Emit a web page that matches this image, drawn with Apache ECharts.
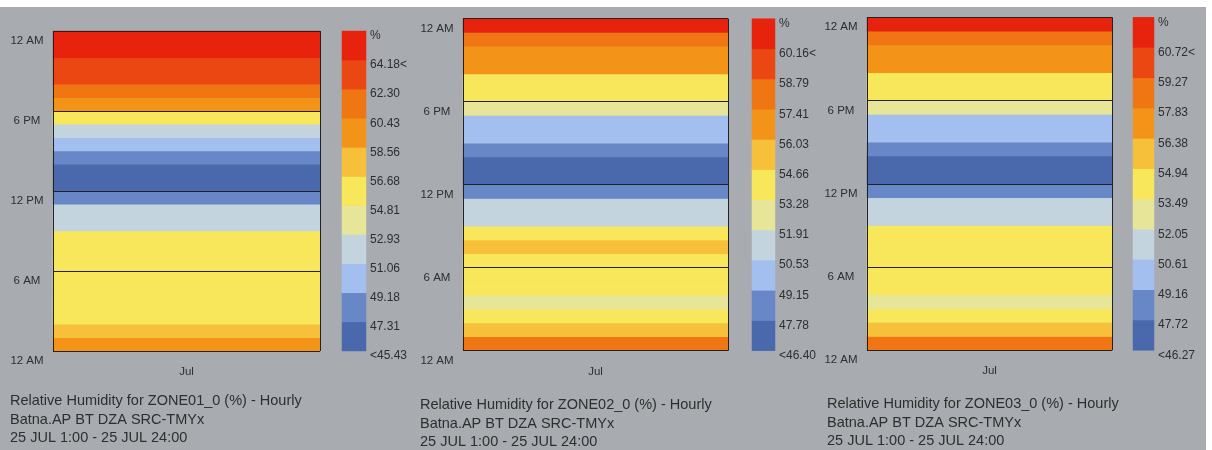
<!DOCTYPE html>
<html>
<head>
<meta charset="utf-8">
<script src="https://cdn.jsdelivr.net/npm/echarts@6/dist/echarts.min.js"></script>
<style>
  html, body { margin: 0; padding: 0; background: #ffffff; }
  #chart { position: absolute; left: 0; top: 7px; width: 1206px; height: 443px; }
</style>
</head>
<body>
<div id="chart"></div>
<script>
// Hourly relative humidity (%) for 25 July, hours 1:00 .. 24:00 (bottom to top)
const months = ['Jul'];
const hours = ['1:00', '2:00', '3:00', '4:00', '5:00', '6:00', '7:00', '8:00', '9:00', '10:00', '11:00', '12:00',
  '13:00', '14:00', '15:00', '16:00', '17:00', '18:00', '19:00', '20:00', '21:00', '22:00', '23:00', '24:00'];
const timeTicks = ['12 AM', '6 AM', '12 PM', '6 PM', '12 AM'];

const zone1 = [59.6, 57.2, 55.9, 55.4, 55.6, 55.8, 55.5, 55.3, 55.1, 52.6, 51.9, 48.0,
  45.43, 46.2, 48.6, 50.2, 52.3, 55.2, 59.3, 61.2, 62.9, 63.8, 65.2, 66.05];
const zone2 = [58.2, 55.2, 54.0, 52.8, 53.9, 54.2, 54.0, 55.0, 54.1, 51.2, 50.9, 48.3,
  46.40, 47.0, 48.5, 49.6, 50.2, 52.4, 53.8, 54.3, 56.5, 56.9, 58.0, 61.5];
const zone3 = [58.4, 55.6, 54.3, 53.0, 54.2, 54.5, 54.3, 54.0, 54.2, 51.4, 51.0, 48.5,
  46.27, 47.0, 48.4, 49.9, 50.3, 52.8, 54.0, 54.6, 56.9, 57.4, 58.6, 62.1];

// Colour-key class edges (lowest to highest) and their printed labels
const zone1Bounds = [45.43, 47.31, 49.18, 51.06, 52.93, 54.81, 56.68, 58.56, 60.43, 62.30, 64.18, 66.05];
const zone2Bounds = [46.40, 47.78, 49.15, 50.53, 51.91, 53.28, 54.66, 56.03, 57.41, 58.79, 60.16, 61.54];
const zone3Bounds = [46.27, 47.72, 49.16, 50.61, 52.05, 53.49, 54.94, 56.38, 57.83, 59.27, 60.72, 62.17];
const zone1Ticks = ['<45.43', '47.31', '49.18', '51.06', '52.93', '54.81', '56.68', '58.56', '60.43', '62.30', '64.18<', '%'];
const zone2Ticks = ['<46.40', '47.78', '49.15', '50.53', '51.91', '53.28', '54.66', '56.03', '57.41', '58.79', '60.16<', '%'];
const zone3Ticks = ['<46.27', '47.72', '49.16', '50.61', '52.05', '53.49', '54.94', '56.38', '57.83', '59.27', '60.72<', '%'];

const binColors = ['#4a68ac', '#6787c6', '#a3bff0', '#c3d4df', '#e7e598', '#f8e75a',
  '#f7c03a', '#f39419', '#ef7613', '#ea4712', '#e8230d'];

const titles = [
  'Relative Humidity for ZONE01_0 (%) - Hourly\nBatna.AP BT DZA SRC-TMYx\n25 JUL 1:00 - 25 JUL 24:00',
  'Relative Humidity for ZONE02_0 (%) - Hourly\nBatna.AP BT DZA SRC-TMYx\n25 JUL 1:00 - 25 JUL 24:00',
  'Relative Humidity for ZONE03_0 (%) - Hourly\nBatna.AP BT DZA SRC-TMYx\n25 JUL 1:00 - 25 JUL 24:00'
];

// Layout of the three side-by-side panels
const panels = [
  { values: zone1, bounds: zone1Bounds, ticks: zone1Ticks, title: titles[0],
    plot: { left: 53, top: 24, width: 267, height: 320 }, key: { left: 342, width: 24 },
    titlePos: { left: 10, top: 385 } },
  { values: zone2, bounds: zone2Bounds, ticks: zone2Ticks, title: titles[1],
    plot: { left: 463, top: 11.7, width: 265, height: 332 }, key: { left: 752, width: 23 },
    titlePos: { left: 420, top: 389 } },
  { values: zone3, bounds: zone3Bounds, ticks: zone3Ticks, title: titles[2],
    plot: { left: 867, top: 10.3, width: 245, height: 333 }, key: { left: 1133, width: 21 },
    titlePos: { left: 827, top: 388 } }
];

const FONT = '"Liberation Sans", Arial, sans-serif';
const TEXT = '#2e2e2e';
const LINE = '#222222';

const grid = [], xAxis = [], yAxis = [], series = [], visualMap = [], title = [];

panels.forEach((p, k) => {
  const g = 2 * k;
  grid.push({ left: p.plot.left, top: p.plot.top, width: p.plot.width, height: p.plot.height, containLabel: false });
  grid.push({ left: p.key.left, top: p.plot.top, width: p.key.width, height: p.plot.height, containLabel: false });

  // main plot axes
  xAxis.push({
    gridIndex: g, type: 'category', data: months, z: 10,
    axisLine: { show: false }, axisTick: { show: false },
    splitLine: { show: true, lineStyle: { color: LINE, width: 1 } },
    axisLabel: { margin: 15, fontSize: 11.5, fontFamily: FONT, color: TEXT }
  });
  // colour-key axes
  xAxis.push({ gridIndex: g + 1, type: 'category', data: [''], show: false });

  yAxis.push({ gridIndex: g, type: 'category', data: hours, show: false, position: 'right' });
  yAxis.push({
    gridIndex: g, type: 'value', min: 0, max: 24, interval: 6, position: 'left', z: 10,
    axisLine: { show: false }, axisTick: { show: false },
    splitLine: { show: true, lineStyle: { color: LINE, width: 1 } },
    axisLabel: {
      margin: 26, align: 'center', verticalAlign: 'top', padding: [4, 0, 0, 0],
      fontSize: 11.5, fontFamily: FONT, color: TEXT,
      formatter: v => timeTicks[Math.round(v / 6)]
    }
  });
  yAxis.push({ gridIndex: g + 1, type: 'category', data: p.ticks.slice(0, 11), show: false, position: 'left' });
  yAxis.push({
    gridIndex: g + 1, type: 'value', min: 0, max: 11, interval: 1, position: 'right',
    axisLine: { show: false }, axisTick: { show: false }, splitLine: { show: false },
    axisLabel: {
      margin: 4, verticalAlign: 'top', padding: [-1, 0, 0, 0],
      fontSize: 12, fontFamily: FONT, color: TEXT,
      formatter: v => p.ticks[Math.round(v)]
    }
  });

  const sMain = series.length;
  series.push({
    type: 'heatmap', xAxisIndex: g, yAxisIndex: 4 * k,
    data: p.values.map((v, i) => [0, i, v]),
    emphasis: { disabled: true }, progressive: 0
  });
  series.push({
    type: 'heatmap', xAxisIndex: g + 1, yAxisIndex: 4 * k + 2,
    data: binColors.map((c, i) => [0, i, (p.bounds[i] + p.bounds[i + 1]) / 2]),
    emphasis: { disabled: true }, progressive: 0
  });

  const pieces = binColors.map((c, i) => {
    if (i === 0) return { lt: p.bounds[1], color: c };
    if (i === binColors.length - 1) return { gte: p.bounds[i], color: c };
    return { gte: p.bounds[i], lt: p.bounds[i + 1], color: c };
  });
  visualMap.push({ type: 'piecewise', show: false, dimension: 2, seriesIndex: [sMain, sMain + 1], pieces });

  title.push({
    text: p.title, left: p.titlePos.left, top: p.titlePos.top, padding: 0,
    textStyle: { fontSize: 14.5, fontWeight: 'normal', fontFamily: FONT, color: TEXT, lineHeight: 18.5 }
  });
});

const chart = echarts.init(document.getElementById('chart'), null, { renderer: 'canvas' });
chart.setOption({
  backgroundColor: '#a8acb1',
  animation: false,
  textStyle: { fontFamily: FONT },
  title, grid, xAxis, yAxis, series, visualMap
});
</script>
</body>
</html>
